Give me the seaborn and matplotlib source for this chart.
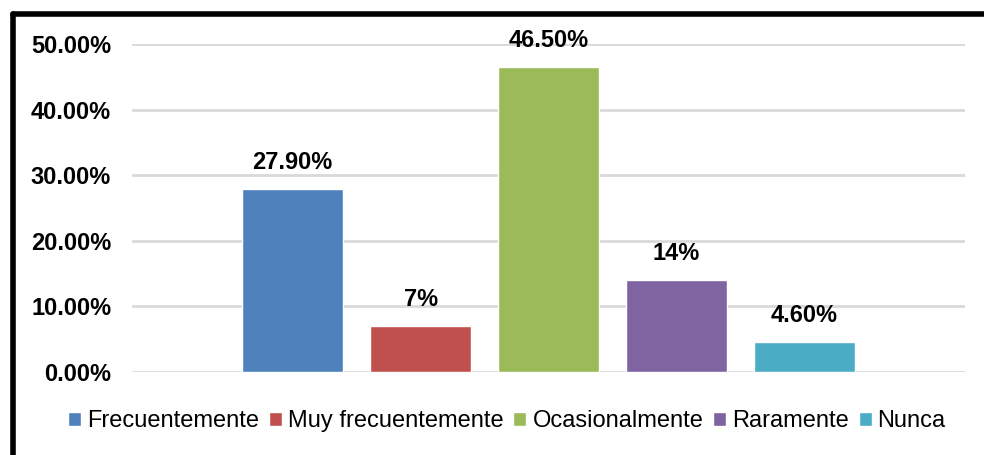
import matplotlib
matplotlib.use("Agg")
import matplotlib.pyplot as plt
import seaborn as sns
from matplotlib.lines import Line2D
from matplotlib.ticker import FuncFormatter

categories = ["Frecuentemente", "Muy frecuentemente", "Ocasionalmente", "Raramente", "Nunca"]
values = [0.279, 0.07, 0.465, 0.14, 0.046]
bar_labels = ["27.90%", "7%", "46.50%", "14%", "4.60%"]
colors = ["#4F81BD", "#C0504D", "#9BBB59", "#8064A2", "#4BACC6"]

sns.set_style("white")
plt.rcParams["font.family"] = ["Liberation Sans", "DejaVu Sans"]
plt.rcParams["text.color"] = "black"
plt.rcParams["ytick.color"] = "black"

fig = plt.figure(figsize=(9.84, 4.55), dpi=100)
ax = fig.add_axes([132 / 984, 1 - 372 / 455, 833 / 984, 328 / 455])

sns.barplot(x=categories, y=values, hue=categories, palette=colors,
            width=0.79, dodge=False, legend=True, ax=ax, saturation=1)

ax.set_xlim(-1.256, 5.256)
ax.set_ylim(0, 0.5)
ax.set_yticks([0, 0.1, 0.2, 0.3, 0.4, 0.5])
ax.yaxis.set_major_formatter(FuncFormatter(lambda v, p: f"{v * 100:.2f}%"))
ax.set_xticks([])
ax.set_xlabel("")
ax.set_ylabel("")
ax.tick_params(axis="y", length=0, pad=15, labelsize=17, labelcolor="black")
for t in ax.get_yticklabels():
    t.set_fontweight("bold")
ax.grid(axis="y", color="#D9D9D9", linewidth=2)
ax.set_axisbelow(True)
for s in ax.spines.values():
    s.set_visible(False)

for i, (v, lab) in enumerate(zip(values, bar_labels)):
    ax.annotate(lab, (i, v), xytext=(0, 11), textcoords="offset points",
                ha="center", va="bottom", fontsize=17, fontweight="bold",
                color="black", annotation_clip=False)

handles, labels = ax.get_legend_handles_labels()
leg = ax.legend(handles, labels, loc="center", bbox_to_anchor=(507 / 984, 1 - 421 / 455),
                bbox_transform=fig.transFigure, ncol=5, frameon=False, fontsize=17,
                handlelength=0.55, handleheight=0.55, handletextpad=0.25,
                columnspacing=0.42, borderaxespad=0)
for t in leg.get_texts():
    t.set_color("black")

# thick chart-area border (only top and left visible in the crop)
fig.add_artist(Line2D([13 / 984, 13 / 984], [-0.1, 1 - 13.5 / 455],
                      transform=fig.transFigure, color="black", linewidth=4,
                      solid_capstyle="round"))
fig.add_artist(Line2D([13 / 984, 1.1], [1 - 13.5 / 455, 1 - 13.5 / 455],
                      transform=fig.transFigure, color="black", linewidth=4,
                      solid_capstyle="round"))

fig.savefig("out.png", dpi=100)
